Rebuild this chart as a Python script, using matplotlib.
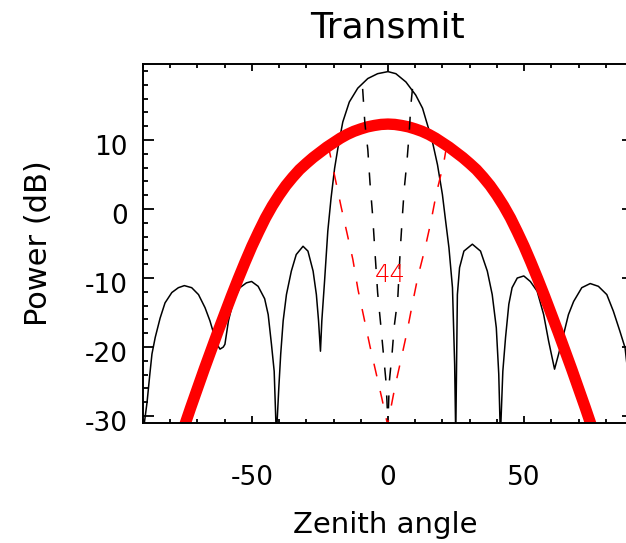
import matplotlib
matplotlib.use("Agg")
import matplotlib.pyplot as plt
from matplotlib.ticker import FixedLocator, MultipleLocator
from matplotlib.transforms import ScaledTranslation

plt.rcParams['font.family'] = ['DejaVu Sans']
plt.rcParams['axes.unicode_minus'] = False

# thin black curve: array pattern (deg, dB)
pattern_angle = [-90, -89.5, -88.5, -87.5, -86.7, -86.1, -85.5, -83.7, -81.9, -79.4,
                 -77.0, -74.8, -72.1, -69.6, -67.2, -65.4, -64.2, -63.0, -61.7, -60.5,
                 -59.9, -58.6, -56.8, -54.4, -52.0, -50.1, -47.7, -45.3, -44.0, -42.8,
                 -41.8, -41.0, -40.1, -39.4, -38.5, -37.3, -35.5, -33.7, -31.2, -29.4,
                 -27.5, -26.3, -25.5, -24.8, -24.3, -23.3, -22.1, -20.9, -19.6, -18.4,
                 -16.6, -14.2, -11.1, -7.4, -3.8, 0.0, 2.9, 6.6, 10.2, 12.7,
                 14.5, 16.3, 18.2, 20.0, 21.2, 22.4, 23.7, 24.5, 24.9, 25.5,
                 26.3, 27.9, 31.0, 34.0, 36.5, 38.3, 39.8, 40.7, 41.3, 42.2,
                 43.2, 44.4, 45.6, 47.5, 49.9, 52.3, 54.8, 57.2, 59.0, 61.2,
                 62.7, 64.5, 66.3, 68.2, 71.2, 74.3, 77.3, 80.4, 82.8, 85.2,
                 87.1, 88.5, 90.0]
pattern_db = [-33.0, -31.0, -28.0, -24.0, -21.0, -19.8, -18.6, -15.8, -13.6, -12.1,
              -11.4, -11.1, -11.4, -12.4, -14.3, -16.2, -17.8, -19.5, -20.3, -20.0,
              -19.6, -16.2, -13.3, -11.4, -10.7, -10.5, -11.2, -13.0, -15.3, -19.6,
              -23.5, -33.0, -25.9, -21.0, -16.2, -12.4, -9.0, -6.6, -5.4, -6.1,
              -9.0, -12.4, -16.2, -20.6, -16.2, -10.5, -3.2, 1.6, 5.9, 8.8,
              12.6, 15.5, 17.5, 18.9, 19.6, 19.9, 19.6, 18.4, 16.5, 14.6,
              12.2, 9.8, 6.4, 2.1, -1.8, -5.6, -11.4, -22.5, -33.0, -12.4,
              -8.5, -6.1, -5.1, -6.1, -9.0, -12.4, -17.2, -23.9, -33.0, -23.5,
              -18.6, -13.8, -11.4, -10.0, -9.7, -10.5, -11.9, -15.3, -19.1, -23.2,
              -21.0, -18.2, -15.3, -13.4, -11.4, -10.8, -11.2, -12.4, -14.8, -17.7,
              -20.1, -25.0, -31.0]

# thick red curve: element pattern
element_angle = [-75, -72.5, -70, -67.5, -65, -62.5, -60, -57.5, -55, -52.5, -50, -47.5,
                 -45, -42.5, -40, -37.5, -35, -32.5, -30, -27.5, -25, -22.5, -20, -17.5,
                 -15, -12.5, -10, -7.5, -5, -2.5, 0, 2.5, 5, 7.5, 10, 12.5, 15, 17.5,
                 20, 22.5, 25, 27.5, 30, 32.5, 35, 37.5, 40, 42.5, 45, 47.5, 50, 52.5,
                 55, 57.5, 60, 62.5, 65, 67.5, 70, 72.5, 75]
element_db = [-31.7, -28.8, -26.0, -23.2, -20.5, -17.8, -15.2, -12.6, -10.1, -7.7, -5.4, -3.3,
              -1.3, 0.45, 2.0, 3.4, 4.6, 5.7, 6.6, 7.45, 8.2, 8.95, 9.6, 10.25,
              10.8, 11.25, 11.6, 11.9, 12.1, 12.25, 12.3, 12.25, 12.1, 11.9, 11.6, 11.25, 10.8, 10.25,
              9.6, 8.95, 8.2, 7.45, 6.6, 5.7, 4.6, 3.4, 2.0, 0.45, -1.3, -3.3, -5.4, -7.7,
              -10.1, -12.6, -15.2, -17.8, -20.5, -23.2, -26.0, -28.8, -31.7]

# black dashed pair
bdash_left_angle = [-9.3, -8.5, -7.4, -6.6, -5.6, -4.9, -3.8, -2.6, -1.6, -0.7, 0.0]
bdash_left_db = [17.4, 12.5, 8.6, 3.8, -1.1, -5.5, -12.1, -17.0, -21.3, -25.1, -31.0]
bdash_right_angle = [9.0, 8.4, 7.8, 7.0, 6.0, 5.3, 4.5, 3.6, 2.3, 1.5, 0.5, 0.0]
bdash_right_db = [17.4, 15.0, 11.0, 7.0, 3.0, -1.0, -6.0, -13.0, -17.0, -21.0, -25.0, -31.0]

# red dashed pair
rdash_left_angle = [-22.0, -19.8, -17.2, -15.1, -12.9, -11.0, -8.9, -6.6, -4.4, -2.2, -0.4, 0.0]
rdash_left_db = [9.3, 5.2, 0.3, -3.4, -7.3, -11.7, -15.6, -19.9, -23.7, -27.5, -30.8, -31.0]
rdash_right_angle = [21.5, 20.5, 17.8, 15.7, 13.5, 11.0, 9.1, 6.95, 4.8, 2.6, 0.0]
rdash_right_db = [9.0, 6.7, 2.3, -2.0, -5.9, -9.8, -13.5, -17.9, -21.8, -25.7, -31.0]

label_text = "44"
label_pos = (1.0, -9.5)

fig = plt.figure(figsize=(6.26, 5.43), dpi=100)
ax = fig.add_axes([0.2284, 0.2210, 0.7827, 0.6611])

ax.plot(pattern_angle, pattern_db, color='black', lw=1.1)
ax.plot(element_angle, element_db, color='red', lw=8.2,
        solid_capstyle='butt', solid_joinstyle='round')
ax.plot(bdash_left_angle, bdash_left_db, color='black', lw=1.1, dashes=(8.5, 9.8))
ax.plot(bdash_right_angle, bdash_right_db, color='black', lw=1.1, dashes=(8.5, 9.8))
ax.plot(rdash_left_angle, rdash_left_db, color='red', lw=1.1, dashes=(8.5, 9.8))
ax.plot(rdash_right_angle, rdash_right_db, color='red', lw=1.1, dashes=(8.5, 9.8))
ax.text(label_pos[0], label_pos[1], label_text, color='red', fontsize=17.5,
        fontweight='light', ha='center', va='center')

ax.set_xlim(-90, 90)
ax.set_ylim(-31, 21)
ax.xaxis.set_major_locator(FixedLocator([-50, 0, 50]))
ax.xaxis.set_minor_locator(MultipleLocator(10))
ax.yaxis.set_major_locator(FixedLocator([-30, -20, -10, 0, 10]))
ax.yaxis.set_minor_locator(MultipleLocator(2))

ax.tick_params(which='both', direction='in', top=True, right=True, width=1.3)
ax.tick_params(axis='x', which='major', length=5, pad=30, labelsize=19)
ax.tick_params(axis='x', which='minor', length=2.9)
ax.tick_params(axis='y', which='major', length=8, pad=10.8, labelsize=19)
ax.tick_params(axis='y', which='minor', length=3.6)
for sp in ax.spines.values():
    sp.set_linewidth(1.4)

# IDL puts y labels a little below the tick
off = ScaledTranslation(0, -5 / 100, fig.dpi_scale_trans)
for lab in ax.get_yticklabels():
    lab.set_transform(lab.get_transform() + off)

ax.set_title("Transmit", fontsize=26, pad=19)
ax.set_xlabel("Zenith angle", fontsize=21)
ax.xaxis.set_label_coords(0.494, -0.245)
ax.set_ylabel("Power (dB)", fontsize=22)
ax.yaxis.set_label_coords(-0.184, 0.5)

fig.savefig("out.png", dpi=100)
